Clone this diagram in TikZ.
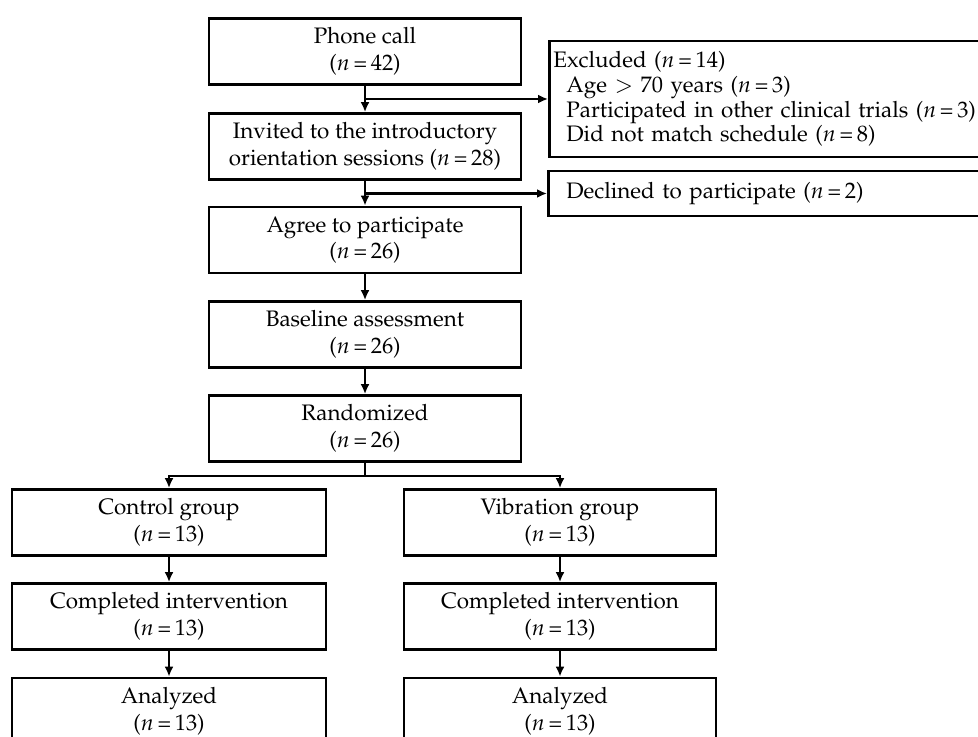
\documentclass[tikz,border=0pt]{standalone}
\usepackage[T1]{fontenc}
\usepackage{mathpazo}
\usetikzlibrary{arrows.meta}
\newcommand{\ncount}[1]{($n$\,=\,#1)}

\begin{document}
\begin{tikzpicture}[x=0.5pt,y=-0.5pt, font=\fontsize{11.2}{12.3}\selectfont,
  box/.style={draw, line width=1.4pt, align=center, minimum width=156pt, minimum height=33pt, inner sep=1pt,
    execute at begin node=\setlength{\baselineskip}{13.3pt}},
  sidebox/.style={draw, line width=1.4pt, align=left, anchor=west, inner ysep=1pt},
  arr/.style={line width=1.2pt, -{Latex[length=5pt,width=4.5pt]}}]
\useasboundingbox (0,0) rectangle (978,737);
\clip (0,0) rectangle (978,737);

\node[box] (call) at (365,51.5) {Phone call\\\ncount{42}};
\node[box] (invite) at (365,146.5) {Invited to the introductory\\orientation sessions \ncount{28}};
\node[box] (agree) at (365,240) {Agree to participate\\\ncount{26}};
\node[box] (base) at (365,334.5) {Baseline assessment\\\ncount{26}};
\node[box] (rand) at (365,428.5) {Randomized\\\ncount{26}};

\node[box, minimum width=157pt] (ctrl) at (169,522.5) {Control group\\\ncount{13}};
\node[box] (vib) at (560,522.5) {Vibration group\\\ncount{13}};
\node[box, minimum width=157pt] (comp1) at (169,616.5) {Completed intervention\\\ncount{13}};
\node[box] (comp2) at (560,616.5) {Completed intervention\\\ncount{13}};
\node[box, minimum width=157pt] (ana1) at (169,711) {Analyzed\\\ncount{13}};
\node[box] (ana2) at (560,711) {Analyzed\\\ncount{13}};

\node[sidebox, text width=226pt, inner xsep=2pt, minimum height=58pt] (excl) at (548,99)
  {Excluded \ncount{14}\\
   \hspace*{6.5pt}Age $>$ 70 years \ncount{3}\\
   \hspace*{6.5pt}Participated in other clinical trials \ncount{3}\\
   \hspace*{6.5pt}Did not match schedule \ncount{8}};
\node[sidebox, text width=212pt, inner xsep=9pt, minimum height=22.5pt] (decl) at (547,193.5)
  {Declined to participate \ncount{2}};

\coordinate (split) at (365,476);

\draw[arr] (call) -- (invite);
\draw[arr] (call.south |- excl.west) -- (excl.west);
\draw[arr] (invite) -- (agree);
\draw[arr] (invite.south |- decl.west) -- (decl.west);
\draw[arr] (agree) -- (base);
\draw[arr] (base) -- (rand);
\draw[line width=1.2pt] (rand) -- (split);
\draw[arr] (split) -| (ctrl.north);
\draw[arr] (split) -| (vib.north);
\draw[arr] (ctrl) -- (comp1);
\draw[arr] (comp1) -- (ana1);
\draw[arr] (vib) -- (comp2);
\draw[arr] (comp2) -- (ana2);
\end{tikzpicture}
\end{document}
